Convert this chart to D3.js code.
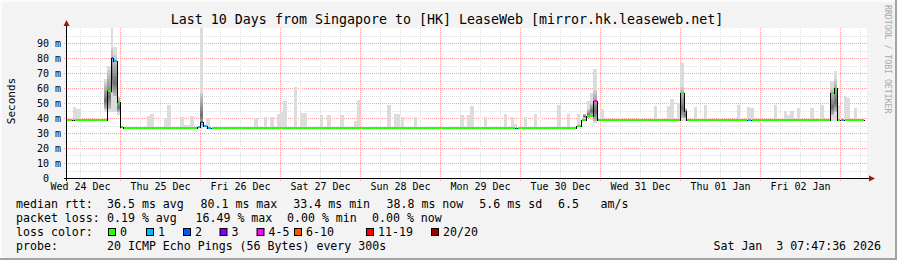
<!DOCTYPE html>
<meta charset="utf-8">
<script src="https://d3js.org/d3.v7.min.js"></script>
<style>
  body { margin: 0; background: #f3f3f3; }
</style>
<div id="chart"></div>
<script>
// time window: 10 days ending Sat Jan 3 07:47:36 2026 (UTC to keep it stable)
const startTime = Date.UTC(2025, 11, 24, 7, 47, 36);
const endTime = Date.UTC(2026, 0, 3, 7, 47, 36);

// median rtt steps: hours since start, value in ms, loss bucket index
const medianHours = [0, 1.8, 2.4, 12.3, 13.5, 14.1, 15.3, 16.2, 17.1, 39.3, 40.2, 41.1, 42.3, 43.5,
  134.7, 135.3, 153.0, 154.5, 156.0, 158.1, 159.3, 184.2, 185.4, 186.0, 204.3, 205.5,
  229.2, 230.4, 231.3, 232.2, 233.4, 239.4];
const medianMs = [38.8, 38.8, 38.8, 58, 80.1, 78, 51, 34.2, 33.4, 34, 37.5, 35, 33.4, 33.4,
  33.4, 33.4, 35, 38.8, 41.5, 51.5, 38.8, 56.5, 45, 38.8, 38.8, 38.8,
  57, 60, 39, 39, 39, 38.8];
const medianLoss = [0, 1, 0, 0, 2, 1, 0, 0, 0, 1, 2, 1, 1, 0,
  1, 0, 0, 0, 0, 4, 0, 0, 0, 0, 1, 0,
  0, 0, 0, 1, 0, 0];

// light smoke: [from hour, to hour, top ms, optional bottom ms]
const smokeLight = [
  [2.1, 3.0, 47.5], [3.0, 4.5, 45.8],
  [11.4, 12.3, 66, 44], [12.3, 13.5, 75, 44], [13.5, 14.1, 100, 44], [14.1, 15.3, 87.5, 44], [15.3, 16.2, 54, 42],
  [24.3, 25.2, 41.3], [25.2, 26.4, 42.4], [29.4, 30.3, 40], [30.3, 31.5, 49], [34.2, 35.4, 41], [35.4, 37.2, 35.5], [37.2, 38.4, 41.3],
  [40.2, 41.1, 100, 33], [42.0, 43.2, 40],
  [56.4, 57.6, 40], [59.4, 60.3, 40.5], [61.2, 62.4, 40.5], [63.3, 64.2, 43], [64.2, 65.1, 44], [65.1, 66.3, 51.3], [68.4, 69.3, 61], [70.2, 72.3, 43.5],
  [76.2, 77.1, 42], [78.3, 79.5, 42], [82.2, 83.4, 42], [86.4, 87.3, 38], [87.3, 88.2, 52], [96.3, 97.5, 48.7], [98.4, 100.2, 42.7], [100.5, 101.4, 41], [104.4, 105.3, 41],
  [118.2, 119.4, 42], [120.3, 121.2, 42], [121.2, 122.4, 48], [125.4, 126.3, 41], [131.4, 132.3, 42.7], [133.5, 134.4, 41], [134.4, 135.3, 36], [137.4, 138.3, 41], [140.4, 141.3, 42.7], [147.3, 148.5, 48.5], [150.3, 151.2, 42.7], [153.3, 154.2, 42.7],
  [155.1, 156.0, 43], [156.3, 157.2, 51.5], [157.2, 158.1, 56.5], [158.1, 159.3, 73, 37], [160.2, 161.4, 45.8],
  [176.4, 177.3, 48], [180.3, 181.2, 48], [181.2, 182.4, 53], [183.3, 184.2, 49.8], [184.2, 185.4, 77, 38], [185.4, 186.3, 46.5], [188.4, 189.3, 47.5], [191.4, 192.3, 48.7],
  [201.3, 202.2, 48.7], [204.3, 205.2, 47.5], [205.2, 206.4, 46.5], [212.4, 213.3, 48.7], [215.4, 216.3, 45], [216.3, 217.2, 42], [217.2, 218.4, 45], [219.3, 220.2, 46.5], [223.2, 224.4, 46.5], [226.2, 227.4, 48.7],
  [229.2, 230.4, 65, 38], [230.4, 231.3, 71.5, 38], [231.3, 232.2, 48.7], [233.4, 234.3, 55], [234.3, 235.2, 53.5], [236.4, 237.3, 46.5]
];

// dense (dark) smoke around the spikes: [from hour, to hour, low ms, high ms]
const smokeDark = [
  [11.4, 12.3, 46, 64], [12.3, 13.5, 46, 72], [13.5, 14.1, 57, 87], [14.1, 15.3, 55, 82], [15.3, 16.2, 44, 54],
  [40.2, 41.1, 35, 57],
  [155.1, 156.0, 40, 43], [156.3, 157.2, 40, 46], [157.2, 158.1, 42, 50], [158.1, 159.3, 38, 59],
  [184.2, 185.4, 40, 61], [185.4, 186.3, 40, 46.5],
  [229.2, 230.4, 42, 60], [230.4, 231.3, 44, 66]
];

const yTicks = [0, 10, 20, 30, 40, 50, 60, 70, 80, 90];
const lossLabels = ["0", "1", "2", "3", "4-5", "6-10", "11-19", "20/20"];
const lossColors = ["#26ff00", "#00b8ff", "#0059ff", "#7e00ff", "#ff00ff", "#ff5500", "#ff0000", "#a10000"];

const titleText = "Last 10 Days from Singapore to [HK] LeaseWeb [mirror.hk.leaseweb.net]";
const rttRow = [["median rtt:", 16], ["36.5 ms avg", 107], ["80.1 ms max", 200.5], ["33.4 ms min", 293.3], ["38.8 ms now", 386.5], ["5.6 ms sd", 479.3], ["6.5", 558], ["am/s", 600.5]];
const lossRow = [["packet loss:", 16], ["0.19 % avg", 107], ["16.49 % max", 195.5], ["0.00 % min", 287], ["0.00 % now", 372]];
const probeRow = [["probe:", 16], ["20 ICMP Echo Pings (56 Bytes) every 300s", 107]];
const stampText = "Sat Jan  3 07:47:36 2026";

const W = 897, H = 260;
const plot = { left: 66, right: 866, top: 28, bottom: 178 };
const mono = "'DejaVu Sans Mono', monospace";
const hourDate = h => new Date(startTime + h * 3600e3);

const svg = d3.select("#chart").append("svg")
  .attr("width", W)
  .attr("height", H)
  .style("font-family", mono);

// background with 3d frame
svg.append("rect").attr("width", W).attr("height", H).attr("fill", "#f3f3f3");
svg.append("rect").attr("width", W).attr("height", 2).attr("fill", "#fbfbfb");
svg.append("rect").attr("width", 2).attr("height", H).attr("fill", "#fbfbfb");
svg.append("rect").attr("y", H - 2).attr("width", W).attr("height", 2).attr("fill", "#a3a3a3");
svg.append("rect").attr("x", W - 2).attr("width", 2).attr("height", H).attr("fill", "#a3a3a3");

// canvas
svg.append("rect")
  .attr("x", plot.left).attr("y", plot.top)
  .attr("width", plot.right - plot.left + 1).attr("height", plot.bottom - plot.top)
  .attr("fill", "#ffffff");

const x = d3.scaleUtc().domain([startTime, endTime]).range([plot.left, plot.right]);
const y = d3.scaleLinear().domain([0, 100]).range([plot.bottom, plot.top]);

// grid
const grid = svg.append("g").attr("shape-rendering", "crispEdges").attr("stroke-dasharray", "1,1");
d3.range(5, 100, 5).forEach(v => {
  grid.append("line")
    .attr("x1", plot.left - 2).attr("x2", plot.right + 1)
    .attr("y1", Math.round(y(v)) + 0.5).attr("y2", Math.round(y(v)) + 0.5)
    .attr("stroke", v % 10 === 0 ? "#ff9f9f" : "#dedede");
});
d3.utcHour.every(6).range(new Date(startTime), new Date(endTime)).forEach(t => {
  const px = Math.round(x(t)) + 0.5;
  grid.append("line")
    .attr("x1", px).attr("x2", px)
    .attr("y1", plot.top).attr("y2", plot.bottom + 3)
    .attr("stroke", t.getUTCHours() === 0 ? "#ff9f9f" : "#dedede");
});

// smoke
const defs = svg.append("defs");
const grad = defs.append("linearGradient").attr("id", "smoke")
  .attr("x1", 0).attr("y1", 0).attr("x2", 0).attr("y2", 1);
[[0, "#d2d2d2"], [0.4, "#9a9a9a"], [0.7, "#6e6e6e"], [1, "#bcbcbc"]].forEach(s => {
  grad.append("stop").attr("offset", s[0]).attr("stop-color", s[1]);
});

function medianAt(h) {
  let i = d3.bisectRight(medianHours, h) - 1;
  return medianMs[Math.max(0, i)];
}

svg.append("g").attr("shape-rendering", "crispEdges")
  .selectAll("rect")
  .data(smokeLight)
  .join("rect")
  .attr("x", d => Math.round(x(hourDate(d[0]))))
  .attr("width", d => Math.round(x(hourDate(d[1]))) - Math.round(x(hourDate(d[0]))))
  .attr("y", d => y(d[2]))
  .attr("height", d => {
    const lo = d[3] !== undefined ? d[3] : Math.min(medianAt(d[0]), medianAt(d[1] - 0.01)) - 0.5;
    return y(lo) - y(d[2]);
  })
  .attr("fill", "#dcdcdc");

svg.append("g").attr("shape-rendering", "crispEdges")
  .selectAll("rect")
  .data(smokeDark)
  .join("rect")
  .attr("x", d => Math.round(x(hourDate(d[0]))))
  .attr("width", d => Math.round(x(hourDate(d[1]))) - Math.round(x(hourDate(d[0]))))
  .attr("y", d => y(d[3]))
  .attr("height", d => y(d[2]) - y(d[3]))
  .attr("fill", "url(#smoke)");

// median: thin black step line, then loss-coloured segments
const steps = medianHours.map((h, i) => ({ t: hourDate(h), v: medianMs[i], loss: medianLoss[i] }));
svg.append("path")
  .datum(steps)
  .attr("fill", "none")
  .attr("stroke", "#000")
  .attr("stroke-width", 1)
  .attr("shape-rendering", "crispEdges")
  .attr("d", d3.line().x(d => Math.round(x(d.t)) + 0.5).y(d => Math.round(y(d.v))).curve(d3.curveStepAfter));

svg.append("g")
  .attr("shape-rendering", "crispEdges")
  .selectAll("line")
  .data(steps.slice(0, -1))
  .join("line")
  .attr("x1", d => Math.round(x(d.t)) + 1)
  .attr("x2", (d, i) => Math.round(x(steps[i + 1].t)))
  .attr("y1", d => Math.round(y(d.v)))
  .attr("y2", d => Math.round(y(d.v)))
  .attr("stroke", d => lossColors[d.loss])
  .attr("stroke-width", 2);

// axes labels ("0" has a blank unit, so it sits two characters further left)
const yAxis = svg.append("g")
  .attr("transform", `translate(${plot.left - 5},0)`)
  .call(d3.axisLeft(y).tickValues(yTicks).tickSize(0).tickPadding(0)
    .tickFormat(d => d === 0 ? "0" : d + " m"));
yAxis.select(".domain").remove();
yAxis.selectAll("text").attr("font-family", mono).attr("font-size", "10px").attr("fill", "#000")
  .attr("dy", "0.35em")
  .attr("x", d => d === 0 ? -12 : 0);

// day labels sit at noon of each day inside the window
const noons = d3.utcDay.range(d3.utcDay.floor(new Date(startTime)), new Date(endTime))
  .map(t => d3.utcHour.offset(t, 12))
  .filter(t => t >= startTime && t <= endTime);
const xAxis = svg.append("g")
  .attr("transform", `translate(0,${plot.bottom})`)
  .call(d3.axisBottom(x).tickValues(noons).tickSize(0).tickPadding(0)
    .tickFormat(d3.utcFormat("%a %d %b")));
xAxis.select(".domain").remove();
xAxis.selectAll("text").attr("font-family", mono).attr("font-size", "10px").attr("fill", "#000")
  .attr("dy", null).attr("y", 12);

// axis lines and arrows
svg.append("line").attr("x1", plot.left + 0.5).attr("x2", plot.left + 0.5)
  .attr("y1", plot.bottom + 3).attr("y2", 24).attr("stroke", "#000");
svg.append("line").attr("x1", plot.left - 2).attr("x2", 870)
  .attr("y1", plot.bottom + 0.5).attr("y2", plot.bottom + 0.5).attr("stroke", "#000");
svg.append("path").attr("d", `M${plot.left - 2.5},26 L${plot.left + 3.5},26 L${plot.left + 0.5},20 Z`).attr("fill", "#a01515");
svg.append("path").attr("d", `M869,${plot.bottom - 2.5} L869,${plot.bottom + 3.5} L875,${plot.bottom + 0.5} Z`).attr("fill", "#a01515");

// title
svg.append("text")
  .attr("x", 447).attr("y", 23.5)
  .attr("text-anchor", "middle")
  .attr("font-size", "13.3px")
  .text(titleText);

// vertical labels
svg.append("text")
  .attr("transform", "translate(15,101) rotate(-90)")
  .attr("text-anchor", "middle")
  .attr("font-size", "11px")
  .text("Seconds");
svg.append("text")
  .attr("transform", "translate(885,5) rotate(90)")
  .attr("font-size", "8.2px")
  .attr("fill", "#a8a8a8")
  .text("RRDTOOL / TOBI OETIKER");

// legend
const legend = svg.append("g").attr("font-size", "11.6px").attr("fill", "#000");
function row(pieces, by) {
  pieces.forEach(p => {
    legend.append("text").attr("x", p[1]).attr("y", by).attr("xml:space", "preserve").text(p[0]);
  });
}
row(rttRow, 208);
row(lossRow, 222);
row([["loss color:", 16]], 236);
row(probeRow, 250);

const boxX = [108, 146, 183, 219.5, 256.5, 294, 366, 431];
lossLabels.forEach((lab, i) => {
  legend.append("rect")
    .attr("x", boxX[i] + 0.5).attr("y", 228.5)
    .attr("width", 7).attr("height", 7)
    .attr("fill", lossColors[i]).attr("stroke", "#000").attr("stroke-width", 1);
  legend.append("text").attr("x", boxX[i] + 12).attr("y", 236).text(lab);
});

legend.append("text")
  .attr("x", 881).attr("y", 250)
  .attr("text-anchor", "end")
  .attr("xml:space", "preserve")
  .text(stampText);
</script>
